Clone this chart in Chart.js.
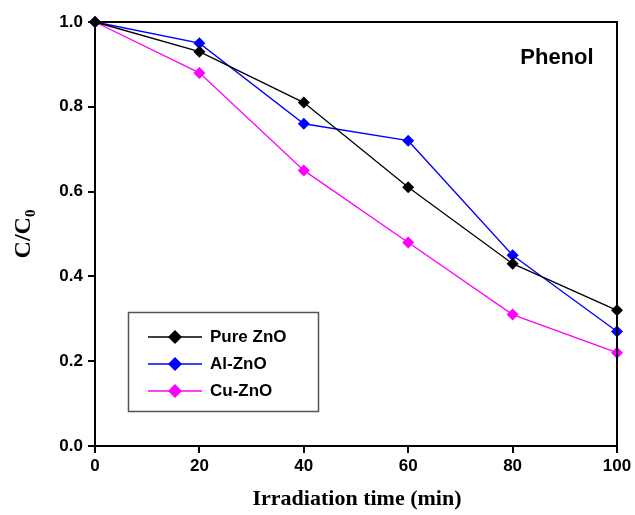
<!DOCTYPE html>
<html>
<head>
<meta charset="utf-8">
<script src="https://cdn.jsdelivr.net/npm/chart.js@4"></script>
<style>
  html,body{margin:0;padding:0;background:#fff;}
  #wrap{width:635px;height:515px;}
</style>
</head>
<body>
<div id="wrap"><canvas id="chart" width="635" height="515"></canvas></div>
<script>
const times=[0,20,40,60,80,100];
const pureZnO=[1.0,0.93,0.81,0.61,0.43,0.32];
const alZnO=[1.0,0.95,0.76,0.72,0.45,0.27];
const cuZnO=[1.0,0.88,0.65,0.48,0.31,0.22];
const seriesNames=['Pure ZnO','Al-ZnO','Cu-ZnO'];
const seriesColors=['#000000','#0000ff','#ff00ff'];
const yTicks=[0,0.2,0.4,0.6,0.8,1.0];

const pts=arr=>times.map((t,i)=>({x:t,y:arr[i]}));
const mk=(i,arr)=>({label:seriesNames[i],data:pts(arr),borderColor:seriesColors[i],backgroundColor:seriesColors[i],
  borderWidth:1.3,pointStyle:'rectRot',pointRadius:6,pointHoverRadius:6,pointBorderWidth:0,tension:0,clip:false});

const tickFont={family:'"Liberation Sans", Arial, sans-serif',size:17,weight:'bold'};

// frame, titles, legend, label
const extras={
  id:'extras',
  afterDraw(c){
    const g=c.ctx,a=c.chartArea;
    g.save();
    g.strokeStyle='#000';g.lineWidth=2;
    g.beginPath();g.moveTo(a.left,a.top);g.lineTo(a.right,a.top);g.lineTo(a.right,a.bottom);g.stroke();

    // x title
    g.fillStyle='#000';g.textAlign='center';g.textBaseline='middle';
    g.font='bold 22px "Liberation Serif", "Times New Roman", serif';
    g.fillText('Irradiation time (min)',(a.left+a.right)/2+1,499);

    // y title with subscript
    g.save();g.translate(24,234);g.rotate(-Math.PI/2);
    g.font='bold 24px "Liberation Serif", "Times New Roman", serif';
    const w1=g.measureText('C/C').width;
    g.font='bold 15px "Liberation Serif", "Times New Roman", serif';
    const w2=g.measureText('0').width;
    const x0=-(w1+w2)/2;
    g.textAlign='left';
    g.font='bold 24px "Liberation Serif", "Times New Roman", serif';
    g.fillText('C/C',x0,0);
    g.font='bold 15px "Liberation Serif", "Times New Roman", serif';
    g.fillText('0',x0+w1,7);
    g.restore();

    // Phenol
    g.font='bold 22px "Liberation Sans", Arial, sans-serif';
    g.textAlign='center';
    g.fillText('Phenol',557,58);

    // legend
    g.strokeStyle='#555';g.lineWidth=1.5;
    g.strokeRect(128.5,312.5,190,99);
    g.font='bold 17px "Liberation Sans", Arial, sans-serif';
    g.textAlign='left';
    c.data.datasets.forEach((ds,i)=>{
      const y=337+i*27;
      g.strokeStyle=ds.borderColor;g.lineWidth=1.3;
      g.beginPath();g.moveTo(148,y);g.lineTo(202,y);g.stroke();
      g.fillStyle=ds.backgroundColor;
      g.beginPath();g.moveTo(175,y-7);g.lineTo(182,y);g.lineTo(175,y+7);g.lineTo(168,y);g.closePath();g.fill();
      g.fillStyle='#000';
      g.fillText(ds.label,210,y);
    });
    g.restore();
  }
};

new Chart(document.getElementById('chart'),{
  type:'line',
  data:{datasets:[mk(0,pureZnO),mk(1,alZnO),mk(2,cuZnO)]},
  options:{
    responsive:false,animation:false,
    layout:{padding:{top:22,right:18,left:0,bottom:0}},
    plugins:{legend:{display:false},tooltip:{enabled:false}},
    scales:{
      x:{type:'linear',min:0,max:100,
        afterBuildTicks:s=>{s.ticks=times.map(v=>({value:v}));},
        afterFit:s=>{s.height=69;},
        ticks:{font:tickFont,color:'#000',padding:3,maxRotation:0},
        grid:{drawOnChartArea:false,tickLength:7,color:'#000',lineWidth:2},
        border:{color:'#000',width:2}},
      y:{min:0,max:1,
        afterBuildTicks:s=>{s.ticks=yTicks.map(v=>({value:v}));},
        afterFit:s=>{s.width=95;},
        ticks:{font:tickFont,color:'#000',padding:5,callback:v=>v.toFixed(1)},
        grid:{drawOnChartArea:false,tickLength:7,color:'#000',lineWidth:2},
        border:{color:'#000',width:2}}
    }
  },
  plugins:[extras]
});
</script>
</body>
</html>
